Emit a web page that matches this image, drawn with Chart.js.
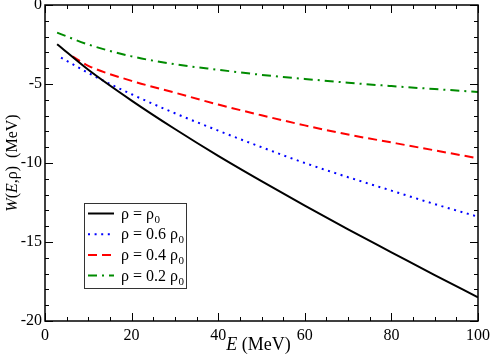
<!doctype html>
<html lang="en">
<head>
  <meta charset="utf-8">
  <title>W(E,rho)</title>
  <script src="https://cdn.jsdelivr.net/npm/chart.js"></script>
  <style>
    html,body{margin:0;padding:0;background:#fff;}
  </style>
</head>
<body>
  <canvas id="chart" width="491" height="355"></canvas>

  <script>
    /* ─── values ─── */
    const E_RHO10 = [2.8, 10, 20, 30, 40, 50, 60, 70, 80, 90, 100];
    const W_RHO10 = [-2.48, -4.1, -6.05, -7.85, -9.55, -11.15, -12.7, -14.2, -15.65, -17.1, -18.5];

    const E_RHO06 = [3.7, 10, 20, 30, 40, 50, 60, 70, 80, 90, 100];
    const W_RHO06 = [-3.33, -4.3, -5.65, -6.85, -7.95, -9.0, -10.0, -10.9, -11.75, -12.6, -13.4];

    const E_RHO04 = [6.3, 10, 20, 30, 40, 50, 60, 70, 80, 90, 100];
    const W_RHO04 = [-3.25, -3.85, -4.8, -5.55, -6.3, -6.98, -7.62, -8.2, -8.7, -9.2, -9.7];

    const E_RHO02 = [2.8, 10, 20, 30, 40, 50, 60, 70, 80, 90, 100];
    const W_RHO02 = [-1.75, -2.5, -3.25, -3.75, -4.1, -4.42, -4.68, -4.92, -5.13, -5.32, -5.5];

    /* legend text: [main, subscript] */
    const SERIES_NAMES = [['ρ = ρ','0'], ['ρ = 0.6 ρ','0'], ['ρ = 0.4 ρ','0'], ['ρ = 0.2 ρ','0']];
    const X_TICKS = [0, 20, 40, 60, 80, 100];
    const Y_TICKS = [-20, -15, -10, -5, 0];

    const SERIF = '"Liberation Serif","DejaVu Serif",serif';
    Chart.defaults.font.family = SERIF;
    const pts = (xs, ys) => xs.map((x, i) => ({x, y: ys[i]}));

    /* inward ticks on all four sides + frame */
    const frameTicks = {
      id: 'frameTicks',
      afterDraw(chart){
        const {ctx, chartArea:{left,right,top,bottom}, scales:{x,y}} = chart;
        ctx.save();
        ctx.strokeStyle = '#000';
        ctx.lineWidth = 1;
        const seg = (x1,y1,x2,y2) => { ctx.beginPath(); ctx.moveTo(x1,y1); ctx.lineTo(x2,y2); ctx.stroke(); };
        for(let v = 0; v <= 100; v += 5){
          const px = Math.round(x.getPixelForValue(v)) + .5;
          const len = v % 20 === 0 ? 8 : 4;
          seg(px, bottom, px, bottom - len);
          seg(px, top, px, top + len);
        }
        for(let v = -20; v <= 0; v += 1){
          const py = Math.round(y.getPixelForValue(v)) + .5;
          const len = v % 5 === 0 ? 8 : 4;
          seg(left, py, left + len, py);
          seg(right, py, right - len, py);
        }
        ctx.lineWidth = 1.5;
        ctx.strokeRect(left, top, right - left, bottom - top);
        ctx.restore();
      }
    };

    /* draw a row of text runs, some italic */
    function runs(ctx, parts, x, y, size){
      let w = 0;
      parts.forEach(p => { ctx.font = (p.it ? 'italic ' : '') + size + 'px ' + SERIF; w += ctx.measureText(p.t).width; });
      let cx = x - w / 2;
      parts.forEach(p => {
        ctx.font = (p.it ? 'italic ' : '') + size + 'px ' + SERIF;
        ctx.fillText(p.t, cx, y);
        cx += ctx.measureText(p.t).width;
      });
    }

    const axisTitles = {
      id: 'axisTitles',
      afterDraw(chart){
        const {ctx, chartArea:{left,right,top,bottom}} = chart;
        ctx.save();
        ctx.fillStyle = '#000';
        ctx.textBaseline = 'alphabetic';
        ctx.textAlign = 'left';
        runs(ctx, [{t:'E', it:true}, {t:' (MeV)'}], (left + right) / 2 - 3, 350, 18);
        ctx.translate(17, (top + bottom) / 2);
        ctx.rotate(-Math.PI / 2);
        runs(ctx, [{t:'W', it:true}, {t:'('}, {t:'E', it:true}, {t:',ρ)  (MeV)'}], 0, 0, 16);
        ctx.restore();
      }
    };

    const boxLegend = {
      id: 'boxLegend',
      afterDraw(chart){
        const {ctx} = chart;
        const bx = 84.5, by = 203.5, bw = 102, bh = 85;
        ctx.save();
        ctx.fillStyle = '#fff';
        ctx.fillRect(bx, by, bw, bh);
        ctx.strokeStyle = '#333';
        ctx.lineWidth = 1;
        ctx.strokeRect(bx, by, bw, bh);
        chart.data.datasets.forEach((ds, i) => {
          const ry = 213.5 + i * 20.7;
          ctx.strokeStyle = ds.borderColor;
          ctx.lineWidth = ds.borderWidth;
          ctx.setLineDash(ds.borderDash || []);
          ctx.beginPath(); ctx.moveTo(88, ry); ctx.lineTo(114, ry); ctx.stroke();
          ctx.setLineDash([]);
          ctx.fillStyle = '#000';
          ctx.textBaseline = 'alphabetic';
          ctx.textAlign = 'left';
          ctx.font = '16px ' + SERIF;
          const [main, sub] = SERIES_NAMES[i];
          ctx.fillText(main, 121, ry + 5);
          const mw = ctx.measureText(main).width;
          ctx.font = '11px ' + SERIF;
          ctx.fillText(sub, 121 + mw + 0.5, ry + 9);
        });
        ctx.restore();
      }
    };

    const lineSet = (data, color, dash) => ({
      data, borderColor: color, backgroundColor: color, borderWidth: 2,
      borderDash: dash, borderCapStyle: 'butt', pointRadius: 0, fill: false,
      cubicInterpolationMode: 'monotone'
    });

    new Chart(document.getElementById('chart'), {
      type: 'line',
      data: {
        datasets: [
          lineSet(pts(E_RHO10, W_RHO10), '#000000', []),
          lineSet(pts(E_RHO06, W_RHO06), '#0000ff', [2, 4.6]),
          lineSet(pts(E_RHO04, W_RHO04), '#ff0000', [9, 5]),
          lineSet(pts(E_RHO02, W_RHO02), '#008b00', [9, 5, 2, 5])
        ]
      },
      options: {
        responsive: false, animation: false, devicePixelRatio: 1,
        layout: {padding: {top: 5, right: 13, bottom: 0, left: 0}},
        plugins: {legend: {display: false}, tooltip: {enabled: false}},
        scales: {
          x: {
            type: 'linear', min: 0, max: 100,
            grid: {display: false, drawTicks: false}, border: {display: false},
            afterBuildTicks: s => { s.ticks = X_TICKS.map(v => ({value: v})); },
            ticks: {color: '#000', padding: 5, maxRotation: 0, font: {family: SERIF, size: 16}},
            afterFit: s => { s.height = 34; s.paddingLeft = 0; s.paddingRight = 0; }
          },
          y: {
            type: 'linear', min: -20, max: 0,
            grid: {display: false, drawTicks: false}, border: {display: false},
            afterBuildTicks: s => { s.ticks = Y_TICKS.map(v => ({value: v})); },
            ticks: {color: '#000', padding: 3, font: {family: SERIF, size: 16}},
            afterFit: s => { s.width = 45; s.paddingTop = 0; s.paddingBottom = 0; }
          }
        }
      },
      plugins: [frameTicks, axisTitles, boxLegend]
    });
  </script>
</body>
</html>
